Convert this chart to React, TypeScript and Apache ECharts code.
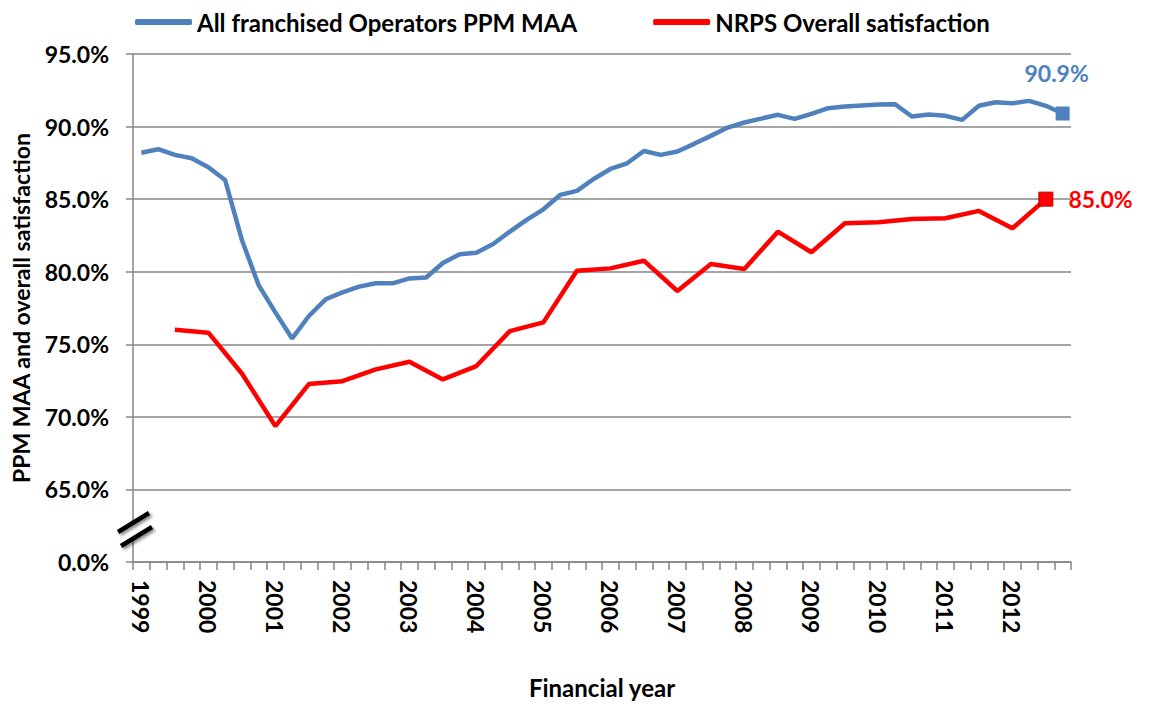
import React, { useEffect, useRef } from "react";
import * as echarts from "echarts";

const years = ["1999", "2000", "2001", "2002", "2003", "2004", "2005", "2006", "2007", "2008", "2009", "2010", "2011", "2012"];
const quarters = ["Q1", "Q2", "Q3", "Q4"];
const categories = years.flatMap((y) => quarters.map((q) => `${y} ${q}`));

// All franchised Operators PPM MAA (quarterly)
const ppmMaa = [
  88.2, 88.44, 88.05, 87.82, 87.2, 86.32, 82.19, 79.08, 77.2, 75.4,
  76.95, 78.1, 78.58, 78.97, 79.2, 79.2, 79.54, 79.6, 80.6, 81.2,
  81.31, 81.91, 82.76, 83.57, 84.3, 85.29, 85.57, 86.39, 87.08, 87.47,
  88.32, 88.05, 88.28, 88.81, 89.36, 89.93, 90.28, 90.55, 90.81, 90.53,
  90.88, 91.27, 91.38, 91.45, 91.52, 91.54, 90.69, 90.83, 90.74, 90.46,
  91.43, 91.68, 91.61, 91.77, 91.43, 90.9,
];

// NRPS Overall satisfaction (half-yearly, from 3rd quarter of 1999)
const nrpsStartIndex = 2;
const nrpsStep = 2;
const nrps = [
  76.0, 75.8, 72.99, 69.36, 72.26, 72.46, 73.27, 73.8, 72.58, 73.5,
  75.91, 76.51, 80.07, 80.23, 80.76, 78.67, 80.53, 80.19, 82.76, 81.34,
  83.34, 83.41, 83.63, 83.68, 84.19, 82.99, 85.0,
];

const yMin = 60;
const yMax = 95;
const yStep = 5;

const BLUE = "#4F81BD";
const RED = "#FF0000";
const AXIS = "#868686";
const FONT = "Lato, 'Open Sans', sans-serif";

export default function App() {
  const ref = useRef<HTMLDivElement>(null);

  useEffect(() => {
    if (!ref.current) return;
    const chart = echarts.init(ref.current, undefined, { renderer: "svg" });

    const blueData = ppmMaa.map((v, i) =>
      i === ppmMaa.length - 1
        ? {
            value: v,
            symbol: "rect",
            symbolSize: 14,
            itemStyle: { color: BLUE },
            label: {
              show: true,
              position: "top",
              distance: 22,
              offset: [-6, 0],
              formatter: (p: any) => p.value.toFixed(1) + "%",
              color: BLUE,
              fontSize: 23,
              fontWeight: "bold",
              fontFamily: FONT,
            },
          }
        : v
    );

    const redData: any[] = categories.map(() => null);
    nrps.forEach((v, k) => {
      const idx = nrpsStartIndex + k * nrpsStep;
      redData[idx] =
        k === nrps.length - 1
          ? {
              value: v,
              symbol: "rect",
              symbolSize: 14,
              itemStyle: { color: RED, borderColor: "#C00000", borderWidth: 1 },
              label: {
                show: true,
                position: "right",
                distance: 15,
                formatter: (p: any) => p.value.toFixed(1) + "%",
                color: RED,
                fontSize: 23,
                fontWeight: "bold",
                fontFamily: FONT,
              },
            }
          : v;
    });

    const breakStyle = {
      stroke: "#000",
      lineWidth: 4.5,
      shadowBlur: 3,
      shadowColor: "rgba(0,0,0,0.45)",
      shadowOffsetX: 2,
      shadowOffsetY: 2,
    };

    chart.setOption({
      animation: false,
      textStyle: { fontFamily: FONT },
      legend: {
        top: 5,
        left: 130,
        itemWidth: 57,
        itemHeight: 6,
        itemGap: 76,
        icon: "roundRect",
        textStyle: { fontSize: 24, fontWeight: "bold", color: "#000", fontFamily: FONT },
        data: ["All franchised Operators PPM MAA", "NRPS Overall satisfaction"],
      },
      grid: { left: 133, right: 81, top: 54, bottom: 147, containLabel: false },
      xAxis: {
        type: "category",
        data: categories,
        boundaryGap: true,
        name: "Financial year",
        nameLocation: "middle",
        nameGap: 113,
        nameTextStyle: { fontSize: 24, fontWeight: "bold", color: "#000", fontFamily: FONT },
        axisLine: { lineStyle: { color: AXIS, width: 1.5 } },
        axisTick: { show: true, interval: 0, length: 8, lineStyle: { color: AXIS, width: 1.5 } },
        axisLabel: {
          interval: 3,
          rotate: -90,
          margin: 18,
          formatter: (v: string) => v.slice(0, 4),
          fontSize: 23,
          fontWeight: "bold",
          color: "#000",
          fontFamily: FONT,
        },
        splitLine: { show: false },
      },
      yAxis: {
        type: "value",
        min: yMin,
        max: yMax,
        interval: yStep,
        name: "PPM MAA and overall satisfaction",
        nameLocation: "middle",
        nameGap: 101,
        nameTextStyle: { fontSize: 23, fontWeight: "bold", color: "#000", fontFamily: FONT },
        axisLine: { show: true, lineStyle: { color: AXIS, width: 1.5 } },
        axisTick: { show: true, length: 7, lineStyle: { color: AXIS, width: 1.5 } },
        axisLabel: {
          margin: 24,
          formatter: (v: number) => (v === yMin ? "0.0%" : v.toFixed(1) + "%"),
          fontSize: 23,
          fontWeight: "bold",
          color: "#000",
          fontFamily: FONT,
        },
        splitLine: { show: true, lineStyle: { color: AXIS, width: 1.5 } },
      },
      series: [
        {
          name: "All franchised Operators PPM MAA",
          type: "line",
          data: blueData,
          showSymbol: true,
          showAllSymbol: true,
          symbol: "none",
          lineStyle: { color: BLUE, width: 4.5 },
          itemStyle: { color: BLUE },
          z: 3,
        },
        {
          name: "NRPS Overall satisfaction",
          type: "line",
          data: redData,
          connectNulls: true,
          showSymbol: true,
          showAllSymbol: true,
          symbol: "none",
          lineStyle: { color: RED, width: 4.5 },
          itemStyle: { color: RED },
          z: 2,
        },
      ],
      graphic: [
        {
          type: "polygon",
          z: 100,
          shape: { points: [[118, 532], [149, 513], [152, 527], [121, 546]] },
          style: { fill: "#fff" },
        },
        { type: "line", z: 101, shape: { x1: 118, y1: 532, x2: 149, y2: 513 }, style: breakStyle },
        { type: "line", z: 101, shape: { x1: 121, y1: 546, x2: 152, y2: 527 }, style: breakStyle },
      ],
    });

    return () => chart.dispose();
  }, []);

  return (
    <div
      ref={ref}
      style={{ position: "fixed", left: 0, top: 0, width: 1152, height: 709, background: "#fff" }}
    />
  );
}
